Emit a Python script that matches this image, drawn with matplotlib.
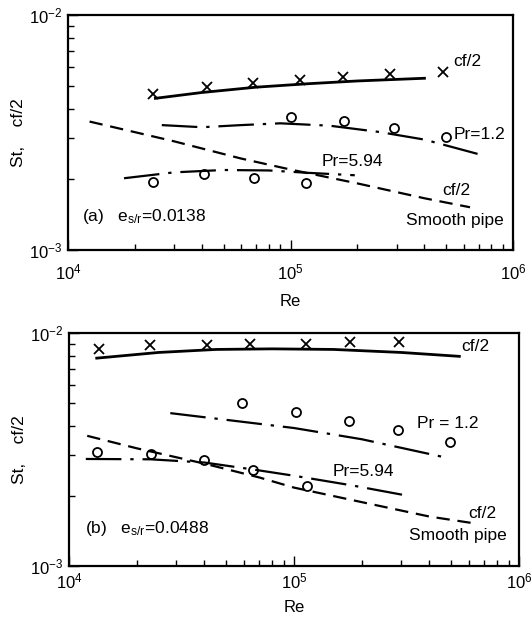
import matplotlib
matplotlib.use("Agg")
import matplotlib.pyplot as plt
from matplotlib.ticker import LogLocator, LogFormatterMathtext, NullFormatter

plt.rcParams['font.family'] = ['Liberation Sans', 'DejaVu Sans']
plt.rcParams['mathtext.fontset'] = 'custom'
plt.rcParams['mathtext.rm'] = 'Liberation Sans'
plt.rcParams['mathtext.it'] = 'Liberation Sans'

# ---------------- panel (a) data ----------------
a_cf_x = [24000, 42200, 67600, 110700, 172600, 281000, 485000]
a_cf_y = [4.6e-3, 4.92e-3, 5.15e-3, 5.29e-3, 5.47e-3, 5.61e-3, 5.74e-3]
a_cfline_x = [24700, 40000, 70000, 120000, 200000, 400000]
a_cfline_y = [4.42e-3, 4.68e-3, 4.93e-3, 5.1e-3, 5.24e-3, 5.38e-3]

a_pr12_x = [101000, 174000, 291000, 502000]
a_pr12_y = [3.69e-3, 3.54e-3, 3.32e-3, 3.03e-3]
a_pr12line_x = [26400, 40000, 60000, 90000, 150000, 250000, 400000, 698000]
a_pr12line_y = [3.40e-3, 3.33e-3, 3.40e-3, 3.46e-3, 3.38e-3, 3.18e-3, 2.95e-3, 2.56e-3]

a_pr594_x = [24000, 40800, 68200, 118000]
a_pr594_y = [1.95e-3, 2.10e-3, 2.03e-3, 1.92e-3]
a_pr594line_x = [17860, 30000, 50000, 80000, 120000, 194500]
a_pr594line_y = [2.02e-3, 2.14e-3, 2.19e-3, 2.18e-3, 2.13e-3, 2.08e-3]

a_smooth_x = [12500, 30000, 60000, 100000, 200000, 400000, 641000]
a_smooth_y = [3.52e-3, 2.9e-3, 2.45e-3, 2.2e-3, 1.92e-3, 1.66e-3, 1.52e-3]

# ---------------- panel (b) data ----------------
b_cf_x = [13600, 23000, 41000, 63800, 113600, 178000, 294000]
b_cf_y = [8.56e-3, 8.85e-3, 8.91e-3, 8.94e-3, 9.0e-3, 9.15e-3, 9.18e-3]
b_cfline_x = [13280, 25000, 45000, 80000, 150000, 300000, 543000]
b_cfline_y = [7.8e-3, 8.25e-3, 8.5e-3, 8.55e-3, 8.5e-3, 8.25e-3, 7.94e-3]

b_pr12_x = [59000, 102000, 175500, 290000, 494000]
b_pr12_y = [5.0e-3, 4.58e-3, 4.2e-3, 3.82e-3, 3.39e-3]
b_pr12line_x = [28200, 60000, 100000, 200000, 489000]
b_pr12line_y = [4.53e-3, 4.15e-3, 3.91e-3, 3.5e-3, 2.90e-3]

b_pr594_x = [13360, 23200, 39800, 65400, 114800]
b_pr594_y = [3.08e-3, 3.03e-3, 2.84e-3, 2.59e-3, 2.21e-3]
b_pr594line_x = [11880, 23000, 40000, 65000, 100000, 180000, 305000]
b_pr594line_y = [2.88e-3, 2.87e-3, 2.78e-3, 2.6e-3, 2.44e-3, 2.22e-3, 2.02e-3]

b_smooth_x = [12050, 20000, 40000, 70000, 100000, 200000, 400000, 645000]
b_smooth_y = [3.62e-3, 3.2e-3, 2.75e-3, 2.4e-3, 2.17e-3, 1.88e-3, 1.63e-3, 1.52e-3]

fig = plt.figure(figsize=(5.31, 6.19), dpi=100)
ax1 = fig.add_axes([68/531, 1-250/619, (513-68)/531, (250-15)/619])
ax2 = fig.add_axes([69/531, 1-566/619, (519-69)/531, (566-333)/619])

dash = (0, (6, 3.5))
dashdot = (0, (16, 4, 1.5, 4))

def style(ax, xpad, xlabelpad):
    ax.set_xscale('log')
    ax.set_yscale('log')
    ax.set_xlim(1e4, 1e6)
    ax.set_ylim(1e-3, 1e-2)
    for s in ax.spines.values():
        s.set_linewidth(1.6)
    ax.xaxis.set_major_locator(LogLocator(base=10, numticks=5))
    ax.xaxis.set_minor_locator(LogLocator(base=10, subs=range(2, 10), numticks=20))
    ax.yaxis.set_major_locator(LogLocator(base=10, numticks=5))
    ax.yaxis.set_minor_locator(LogLocator(base=10, subs=range(2, 10), numticks=20))
    ax.xaxis.set_major_formatter(LogFormatterMathtext())
    ax.yaxis.set_major_formatter(LogFormatterMathtext())
    ax.xaxis.set_minor_formatter(NullFormatter())
    ax.yaxis.set_minor_formatter(NullFormatter())
    ax.tick_params(which='both', direction='in', top=False, right=False, labelsize=12, width=1.0)
    ax.tick_params(which='major', length=7)
    ax.tick_params(axis='x', which='major', pad=xpad)
    ax.tick_params(axis='y', which='major', pad=4)
    ax.tick_params(which='minor', length=4)
    ax.set_xlabel('Re', fontsize=12, labelpad=xlabelpad)
    ax.set_ylabel('St,    cf/2', fontsize=12.5, labelpad=2)

style(ax1, 9, 8)
style(ax2, 4, 6)

fs = 12.5
# panel (a)
ax1.plot(a_cf_x, a_cf_y, 'x', color='black', ms=7, mew=1.3)
ax1.plot(a_cfline_x, a_cfline_y, '-', color='black', lw=2.0)
ax1.plot(a_pr12_x, a_pr12_y, 'o', mfc='white', mec='black', ms=6.5, mew=1.3)
ax1.plot(a_pr12line_x, a_pr12line_y, color='black', lw=1.6, linestyle=dashdot)
ax1.plot(a_pr594_x, a_pr594_y, 'o', mfc='white', mec='black', ms=6.5, mew=1.3)
ax1.plot(a_pr594line_x, a_pr594line_y, color='black', lw=1.6, linestyle=dashdot)
ax1.plot(a_smooth_x, a_smooth_y, color='black', lw=1.6, linestyle=dash)
ax1.text(541000, 6.33e-3, 'cf/2', fontsize=fs, va='center', ha='left')
ax1.text(541000, 3.09e-3, 'Pr=1.2', fontsize=fs, va='center', ha='left')
ax1.text(138000, 2.38e-3, 'Pr=5.94', fontsize=fs, va='center', ha='left')
ax1.text(480000, 1.80e-3, 'cf/2', fontsize=fs, va='center', ha='left')
ax1.text(330000, 1.34e-3, 'Smooth pipe', fontsize=fs, va='center', ha='left')
ax1.text(11500, 1.39e-3, r'(a)   e$_{s/r}$=0.0138', fontsize=fs, va='center', ha='left')

# panel (b)
ax2.plot(b_cf_x, b_cf_y, 'x', color='black', ms=7, mew=1.3)
ax2.plot(b_cfline_x, b_cfline_y, '-', color='black', lw=2.0)
ax2.plot(b_pr12_x, b_pr12_y, 'o', mfc='white', mec='black', ms=6.5, mew=1.3)
ax2.plot(b_pr12line_x, b_pr12line_y, color='black', lw=1.6, linestyle=dashdot)
ax2.plot(b_pr594_x, b_pr594_y, 'o', mfc='white', mec='black', ms=6.5, mew=1.3)
ax2.plot(b_pr594line_x, b_pr594line_y, color='black', lw=1.6, linestyle=dashdot)
ax2.plot(b_smooth_x, b_smooth_y, color='black', lw=1.6, linestyle=dash)
ax2.text(552000, 8.76e-3, 'cf/2', fontsize=fs, va='center', ha='left')
ax2.text(352000, 4.1e-3, 'Pr = 1.2', fontsize=fs, va='center', ha='left')
ax2.text(148700, 2.54e-3, 'Pr=5.94', fontsize=fs, va='center', ha='left')
ax2.text(592000, 1.68e-3, 'cf/2', fontsize=fs, va='center', ha='left')
ax2.text(323000, 1.35e-3, 'Smooth pipe', fontsize=fs, va='center', ha='left')
ax2.text(11750, 1.45e-3, r'(b)   e$_{s/r}$=0.0488', fontsize=fs, va='center', ha='left')

fig.savefig('out.png', dpi=100)
